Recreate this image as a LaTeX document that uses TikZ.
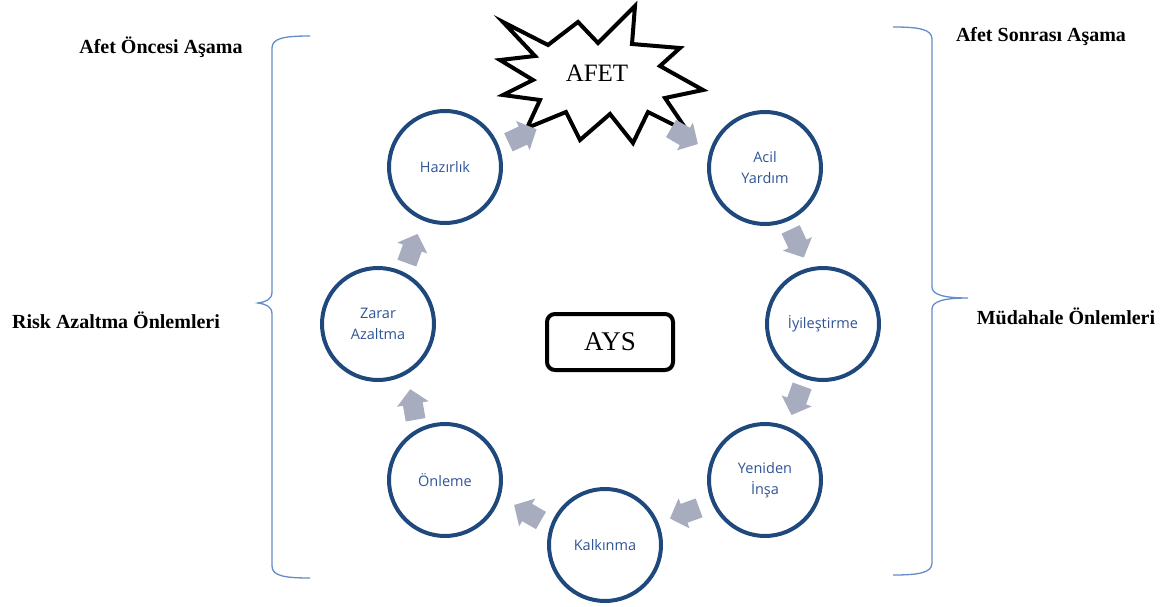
\documentclass[tikz,border=0pt]{standalone}
\usepackage{fontspec}
\setmainfont{Liberation Serif}
\newfontfamily\labfont{Open Sans}
\definecolor{circblue}{RGB}{31,73,125}
\definecolor{labblue}{RGB}{47,84,150}
\definecolor{arrgray}{RGB}{167,172,190}
\definecolor{bracecol}{RGB}{100,140,200}
\tikzset{
  phase/.style={circle,draw=circblue,line width=4pt,minimum size=112pt,inner sep=0pt,align=center,font=\labfont\fontsize{14.5}{21}\selectfont,text=labblue},
  header/.style={font=\bfseries\fontsize{20}{22}\selectfont},
  cyc/.pic={\fill[arrgray] (-15,-10) -- (1,-10) -- (1,-16) -- (16,0) -- (1,16) -- (1,10) -- (-15,10) -- cycle;},
  bracestyle/.style={draw=bracecol,line width=1.3pt}
}
\begin{document}
\begin{tikzpicture}[x=1pt,y=-1pt]
\useasboundingbox (0,0) rectangle (1168,607);
% phases
\node[phase] (haz) at (445,167) {Hazırlık};
\node[phase] (acil) at (765,168) {Acil\\Yardım};
\node[phase] (iyi) at (823,324) {İyileştirme};
\node[phase] (yen) at (765,480) {Yeniden\\İnşa};
\node[phase] (kal) at (605,545) {Kalkınma};
\node[phase] (onl) at (445,480) {Önleme};
\node[phase] (zar) at (378,324) {Zarar\\Azaltma};
% AFET starburst
\draw[line width=4pt,line join=miter,fill=white]
 (503,22) -- (548,45) -- (578,22) -- (598,43) -- (635,6) -- (632,44) -- (680,48) -- (660,66)
 -- (703,90) -- (665,98) -- (688,132) -- (648,112) -- (633,143) -- (610,114) -- (580,140)
 -- (566,112) -- (527,128) -- (540,100) -- (503,95) -- (533,80) -- (500,60) -- (535,56) -- cycle;
\node[font=\fontsize{25}{26}\selectfont] (afet) at (597,73) {AFET};
% AYS
\node[draw,line width=4pt,rounded corners=8pt,minimum width=126pt,minimum height=56pt,font=\fontsize{27}{28}\selectfont] (ays) at (610,342) {AYS};
% arrows
\pic[rotate=25] at (522,136) {cyc};
\pic[rotate=-30] at (684,136) {cyc};
\pic[rotate=-65] at (797,243) {cyc};
\pic[rotate=-110] at (797,400) {cyc};
\pic[rotate=-160] at (685,513) {cyc};
\pic[rotate=150] at (528,513) {cyc};
\pic[rotate=100] at (413,405) {cyc};
\pic[rotate=70] at (412,249) {cyc};
% braces
\draw[bracestyle] (310,36) .. controls (285,36) and (272,38) .. (272,48) -- (272,292) .. controls (272,300) and (265,302) .. (258,303) .. controls (265,304) and (272,306) .. (272,314) -- (272,566) .. controls (272,576) and (285,578) .. (310,578);
\draw[bracestyle] (893,27) .. controls (918,27) and (932,29) .. (932,39) -- (932,287) .. controls (932,295) and (945,298) .. (968,298) .. controls (945,298) and (932,301) .. (932,309) -- (932,563) .. controls (932,573) and (918,575) .. (893,575);
% headers
\node[header] (h1) at (161,47) {Afet Öncesi Aşama};
\node[header] (h2) at (1041,37) {Afet Sonrası Aşama};
\node[header] (h3) at (116,320) {Risk Azaltma Önlemleri};
\node[header] (h4) at (1066,316) {Müdahale Önlemleri};
\end{tikzpicture}
\end{document}
